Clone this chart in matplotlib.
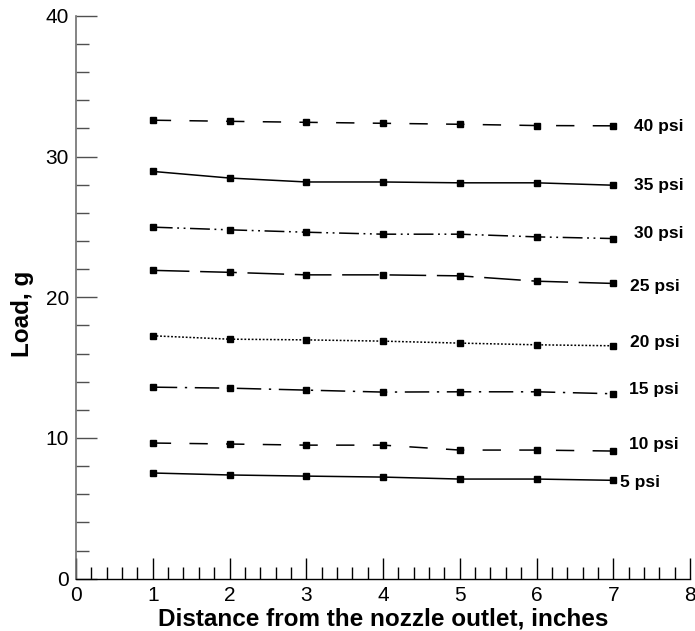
import matplotlib
matplotlib.use("Agg")
import matplotlib.pyplot as plt
from matplotlib.ticker import MultipleLocator

plt.rcParams['font.family'] = ['Liberation Sans', 'DejaVu Sans']

distance = [1, 2, 3, 4, 5, 6, 7]
load_40 = [32.58, 32.50, 32.43, 32.36, 32.29, 32.20, 32.18]
load_35 = [28.94, 28.47, 28.19, 28.19, 28.13, 28.13, 27.96]
load_30 = [24.98, 24.79, 24.62, 24.48, 24.48, 24.29, 24.17]
load_25 = [21.91, 21.77, 21.59, 21.59, 21.52, 21.14, 20.98]
load_20 = [17.26, 17.02, 16.97, 16.88, 16.74, 16.62, 16.55]
load_15 = [13.61, 13.54, 13.40, 13.26, 13.28, 13.28, 13.14]
load_10 = [9.64, 9.57, 9.49, 9.49, 9.14, 9.14, 9.07]
load_5 = [7.51, 7.37, 7.29, 7.22, 7.08, 7.08, 6.99]

series_labels = ['40 psi', '35 psi', '30 psi', '25 psi', '20 psi', '15 psi', '10 psi', '5 psi']
label_x = [7.27, 7.27, 7.27, 7.22, 7.22, 7.20, 7.20, 7.09]
label_y = [32.1, 27.96, 24.55, 20.74, 16.76, 13.47, 9.5, 6.8]

series = [load_40, load_35, load_30, load_25, load_20, load_15, load_10, load_5]
styles = [
    (0, (12, 12)),
    '-',
    (0, (13, 3, 1.2, 3, 1.2, 3)),
    (0, (24, 7)),
    (0, (1.2, 1.2)),
    (0, (16, 5, 1.5, 5)),
    (0, (12, 12)),
    '-',
]

fig = plt.figure(figsize=(6.95, 6.31), dpi=100)
ax = fig.add_axes([0.1094, 0.0829, 0.8834, 0.8921])

for vals, ls in zip(series, styles):
    ax.plot(distance, vals, color='black', linestyle=ls, linewidth=1.1,
            marker='s', markersize=5, markerfacecolor='black', markeredgecolor='black')

for txt, lx, ly in zip(series_labels, label_x, label_y):
    ax.text(lx, ly, txt, fontsize=12.5, fontweight='bold', ha='left', va='center')

ax.set_xlim(0, 8)
ax.set_ylim(0, 40)
ax.xaxis.set_major_locator(MultipleLocator(1))
ax.xaxis.set_minor_locator(MultipleLocator(0.2))
ax.yaxis.set_major_locator(MultipleLocator(10))
ax.yaxis.set_minor_locator(MultipleLocator(2))

ax.spines['top'].set_visible(False)
ax.spines['right'].set_visible(False)
ax.spines['left'].set_color('#707070')
ax.spines['left'].set_linewidth(1.2)
ax.spines['bottom'].set_linewidth(1.0)

ax.tick_params(axis='both', which='major', direction='in', length=15, width=1.0, labelsize=15, pad=5)
ax.tick_params(axis='both', which='minor', direction='in', length=9, width=1.0)
ax.tick_params(axis='y', which='both', color='#505050')

ax.set_xlabel('Distance from the nozzle outlet, inches', fontsize=17.5, fontweight='bold')
ax.set_ylabel('Load, g', fontsize=17.5, fontweight='bold')
ax.xaxis.set_label_coords(0.5, -0.052)
ax.yaxis.set_label_coords(-0.068, 0.47)

fig.savefig('out.png', dpi=100)
